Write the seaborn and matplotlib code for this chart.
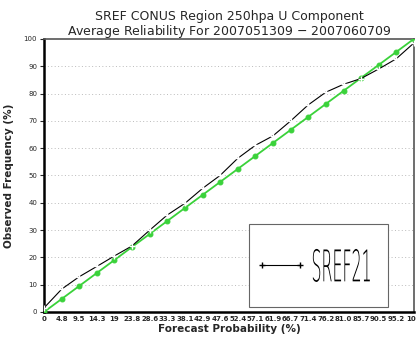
import matplotlib
matplotlib.use("Agg")
import matplotlib.pyplot as plt
import numpy as np
import pandas as pd
import seaborn as sns
from matplotlib.patches import Rectangle, PathPatch
from matplotlib.lines import Line2D
from matplotlib.textpath import TextPath
from matplotlib.font_manager import FontProperties
from matplotlib.transforms import Affine2D

# forecast probability bins (%)
prob = [0, 4.8, 9.5, 14.3, 19, 23.8, 28.6, 33.3, 38.1, 42.9, 47.6, 52.4,
        57.1, 61.9, 66.7, 71.4, 76.2, 81.0, 85.7, 90.5, 95.2, 100]
tick_labels = ["0", "4.8", "9.5", "14.3", "19", "23.8", "28.6", "33.3", "38.1",
               "42.9", "47.6", "52.4", "57.1", "61.9", "66.7", "71.4", "76.2",
               "81.0", "85.7", "90.5", "95.2", "100"]
# observed frequency for SREF21 (%)
sref21 = [1.5, 8.4, 12.9, 16.7, 20.5, 24.2, 30.0, 35.5, 39.8, 45.3, 50.0, 56.3,
          61.0, 64.5, 70.0, 75.8, 80.5, 83.4, 85.5, 89.0, 92.7, 98.5]
# perfect reliability line
perfect = prob

sns.set_style("white")
plt.rcParams['font.family'] = ['DejaVu Sans']

fig = plt.figure(figsize=(4.16, 3.40), dpi=100)
ax = fig.add_axes([0.1058, 0.0824, 0.889, 0.803])

df = pd.DataFrame({"prob": prob, "sref21": sref21, "perfect": perfect})

green = "#3ad23a"
sns.lineplot(data=df, x="prob", y="perfect", ax=ax, color=green, linewidth=1.3,
             marker="o", markersize=3.5, markeredgecolor=green, zorder=3)
sns.lineplot(data=df, x="prob", y="sref21", ax=ax, color="black", linewidth=0.8,
             marker="+", markersize=5, markeredgewidth=1.0, zorder=4)

ax.set_xlim(0, 100)
ax.set_ylim(0, 100)
ax.set_xticks(prob)
ax.set_xticklabels(tick_labels, fontsize=5, fontweight="bold")
ax.set_yticks(np.arange(0, 101, 10))
ax.set_yticklabels([str(v) for v in range(0, 101, 10)], fontsize=5)
ax.tick_params(axis="x", length=0, pad=3)
ax.tick_params(axis="y", length=3, width=0.8, pad=2, left=True)

for y in range(10, 100, 10):
    ax.axhline(y, color="#bbbbbb", linestyle=(0, (1, 2.5)), linewidth=0.7, zorder=1)

for side in ["left", "bottom"]:
    ax.spines[side].set_linewidth(1.8)
    ax.spines[side].set_color("black")
for side in ["top", "right"]:
    ax.spines[side].set_linewidth(1.2)
    ax.spines[side].set_color("#555555")

ax.set_xlabel("Forecast Probability (%)", fontsize=7.5, fontweight="bold", labelpad=1)
ax.set_ylabel("Observed Frequency (%)", fontsize=7.5, fontweight="bold", labelpad=7)
ax.set_title("SREF CONUS Region 250hpa U Component\nAverage Reliability For 2007051309 $-$ 2007060709",
             fontsize=9, linespacing=0.95, pad=3)

# legend box
ax.add_patch(Rectangle((0.554, 0.018), 0.376, 0.304, transform=ax.transAxes,
                       facecolor="white", edgecolor="#666666", linewidth=0.8, zorder=5))
ax.add_line(Line2D([0.589, 0.692], [0.172, 0.172], transform=ax.transAxes,
                   color="black", linewidth=0.8, zorder=6))
ax.add_line(Line2D([0.589, 0.692], [0.172, 0.172], transform=ax.transAxes,
                   color="black", linestyle="none", marker="+", markersize=5, zorder=6))

# condensed legend label, squeezed into its box
tp = TextPath((0, 0), "SREF21", size=1,
              prop=FontProperties(family="DejaVu Sans", weight="light"))
ext = tp.get_extents()
x0, x1, y0, y1 = 0.727, 0.881, 0.110, 0.231
tr = (Affine2D().translate(-ext.x0, -ext.y0)
      .scale((x1 - x0) / ext.width, (y1 - y0) / ext.height)
      .translate(x0, y0) + ax.transAxes)
ax.add_patch(PathPatch(tp, transform=tr, facecolor="black", edgecolor="none", zorder=6))

fig.savefig("out.png", dpi=100)
